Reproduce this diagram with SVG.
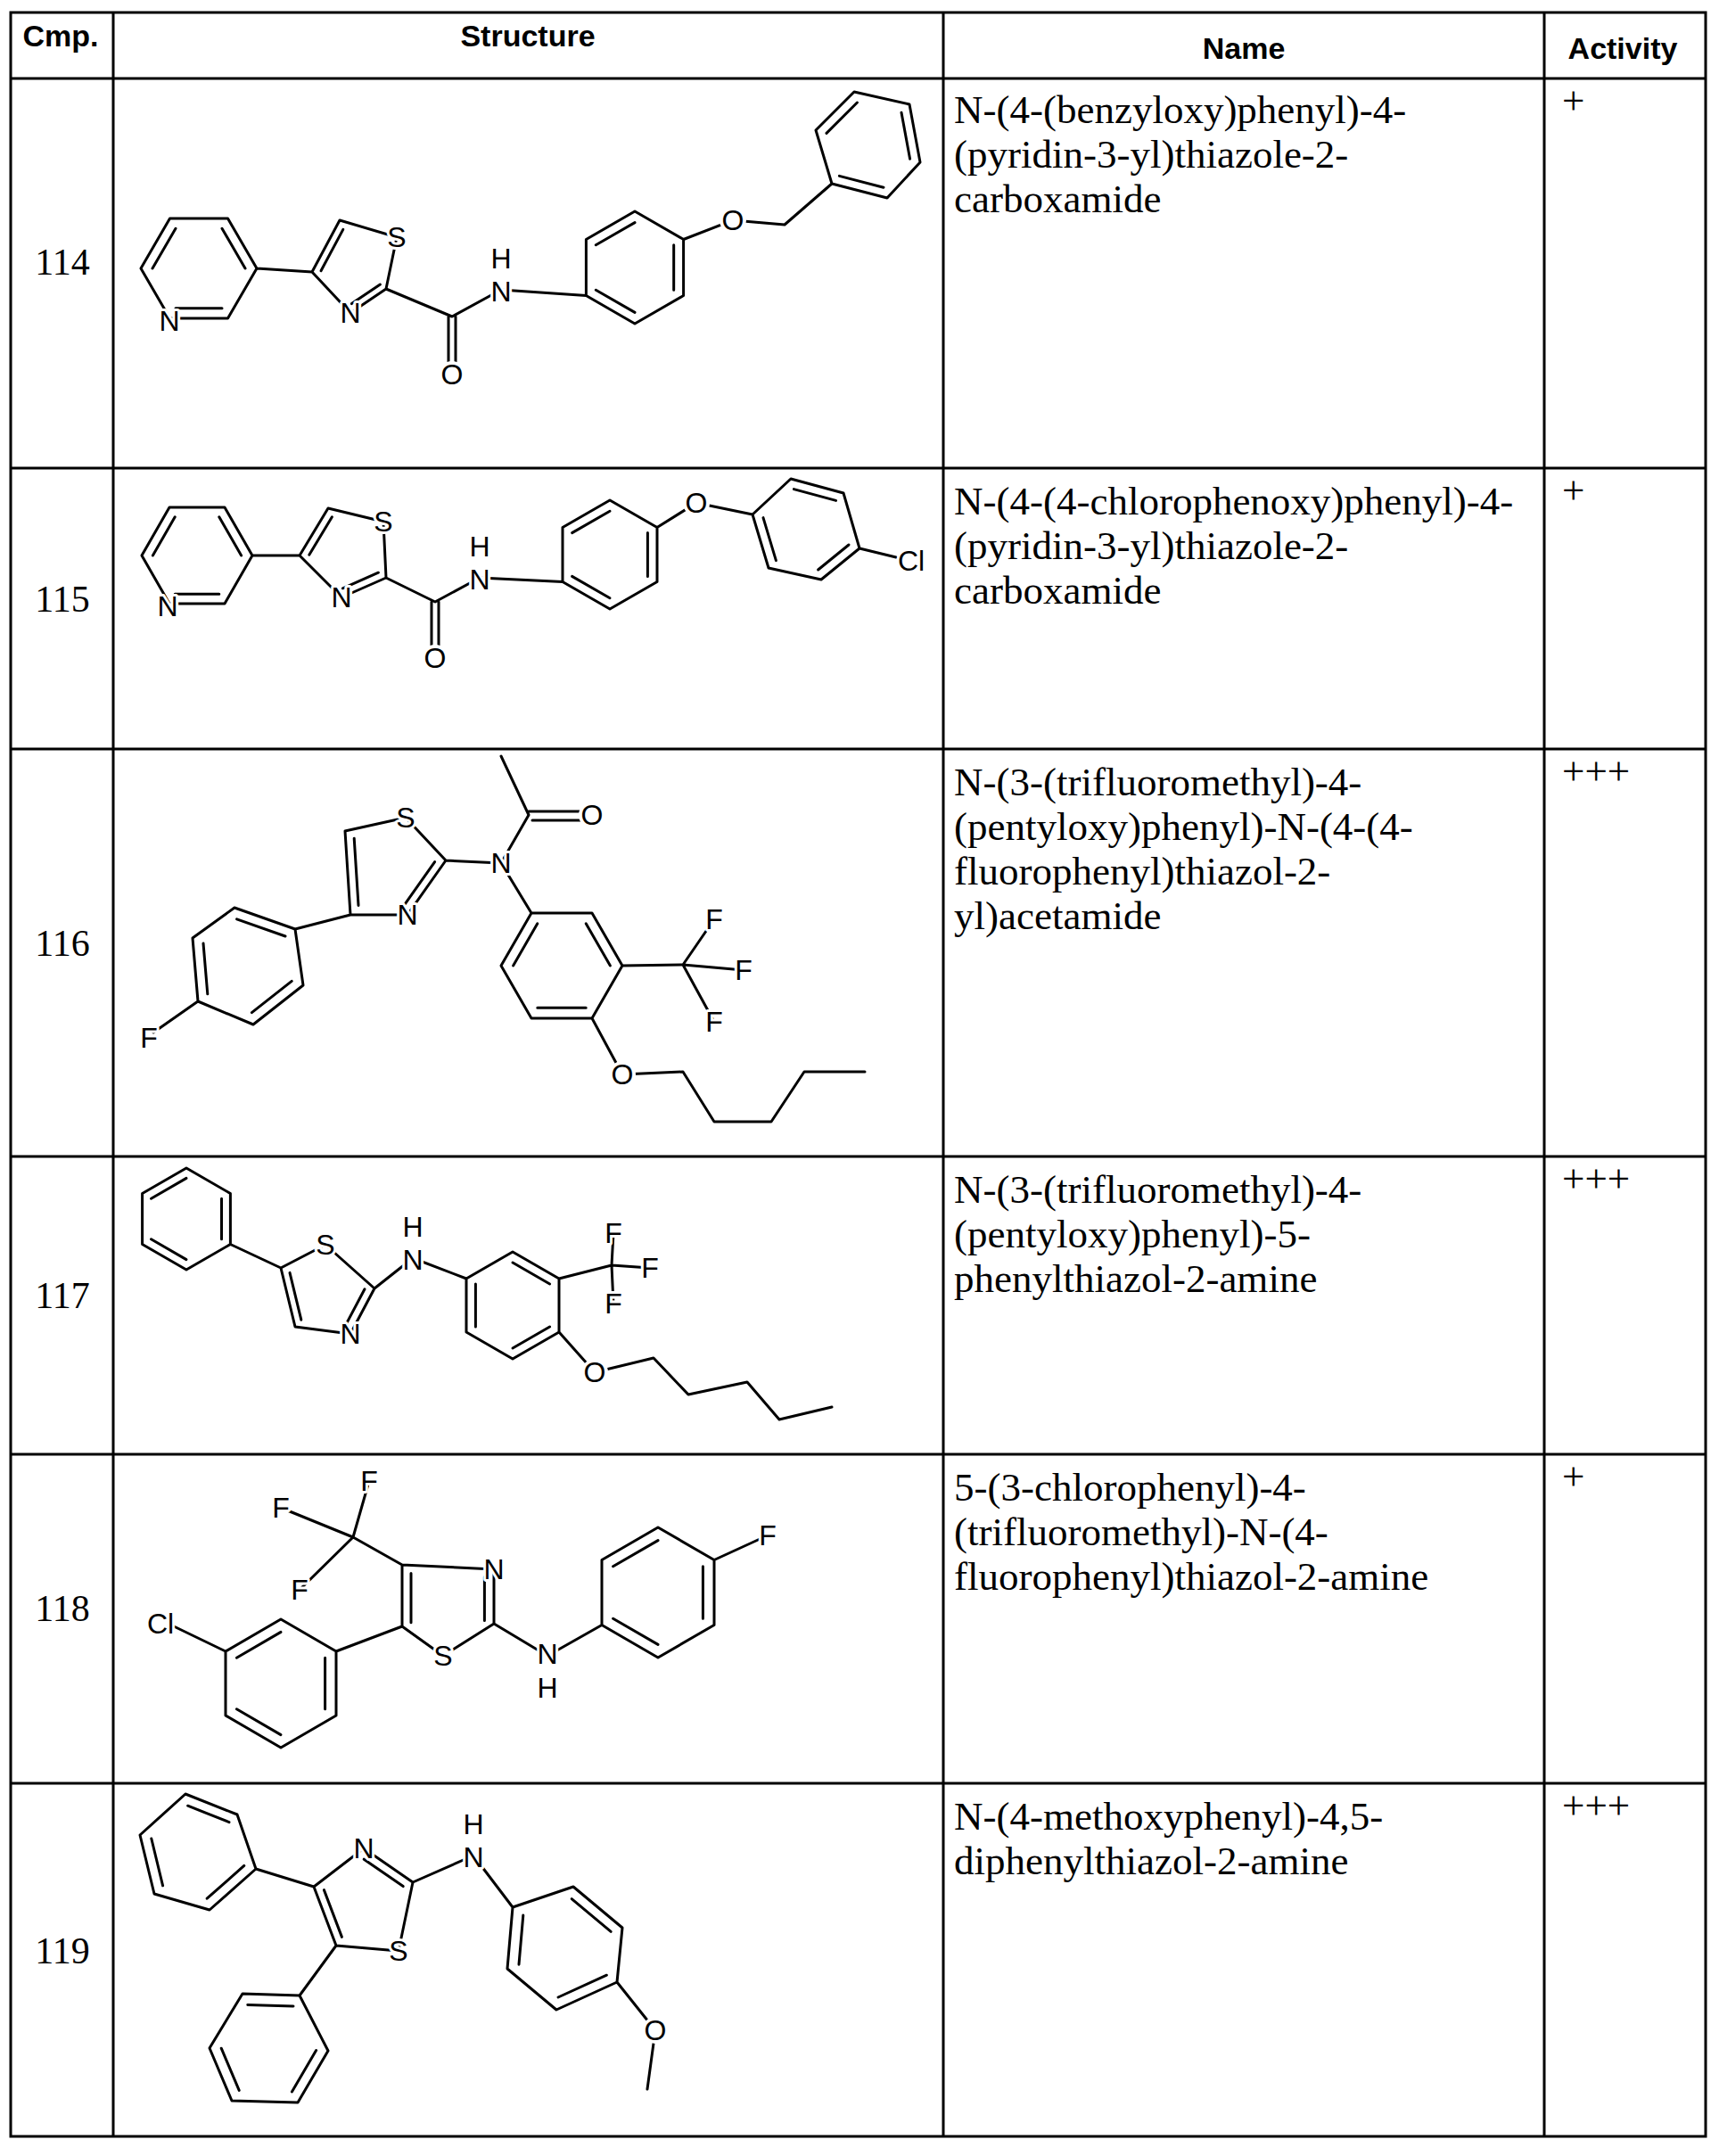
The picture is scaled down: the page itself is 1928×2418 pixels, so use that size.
<svg xmlns="http://www.w3.org/2000/svg" width="1928" height="2418" viewBox="0 0 1928 2418">
<style>
.t{stroke:#000;stroke-width:3;fill:none}
.b{stroke:#000;stroke-width:3;fill:none;stroke-linecap:round;stroke-linejoin:round}
.i path{vector-effect:non-scaling-stroke}
.m{fill:#fff;stroke:none}
.a{font-family:"Liberation Sans",Arial,sans-serif;font-size:32px;text-anchor:middle;dominant-baseline:central;fill:#000;stroke:#fff;stroke-width:6px;paint-order:stroke;stroke-linejoin:round}
.h{font-family:"Liberation Sans",Arial,sans-serif;font-size:34px;font-weight:bold;text-anchor:middle}
.n{font-family:"Liberation Serif","Times New Roman",serif;font-size:45px}
.c{font-family:"Liberation Serif","Times New Roman",serif;font-size:42px;text-anchor:middle}
</style>
<rect width="1928" height="2418" fill="#fff"/>
<g id="table" class="t">
<rect x="12" y="14" width="1901" height="2382"/>
<path d="M127 14V2396M1058 14V2396M1732 14V2396M12 88H1913M12 525H1913M12 840H1913M12 1297H1913M12 1631H1913M12 2000H1913"/>
</g>
<g id="header">
<text class="h" x="68" y="52">Cmp.</text>
<text class="h" x="592" y="52">Structure</text>
<text class="h" x="1395" y="66">Name</text>
<text class="h" x="1820" y="66">Activity</text>
</g>
<g id="row114">
<text class="c" x="70" y="308">114</text>
<text class="n" x="1070" y="138">N-(4-(benzyloxy)phenyl)-4-</text>
<text class="n" x="1070" y="188">(pyridin-3-yl)thiazole-2-</text>
<text class="n" x="1070" y="238">carboxamide</text>
<text class="n" x="1752" y="128">+</text>
<path class="b" d="M288 301L255.5 357L190.5 357L158 301L190.5 245L255.5 245Z M288 301L350 305 M350 305L381 247L445 266L433 324L393 351Z M433 324L507 355L562 325 M503 355V412 M511 355V412 M562 325L657.4 331.5 M712 237L766.6 268.5L766.6 331.5L712 363L657.4 331.5L657.4 268.5Z M766.6 268.5L822 247L880 252L933 206 M933 206L915 146L958 103L1020 117L1032 182L995 222Z"/>
<g class="i b" transform="matrix(0.8,0,0,0.8,44.6,60.2)"><path d="M158 301L190.5 245M255.5 245L288 301M255.5 357L190.5 357"/></g>
<g class="i b" transform="matrix(0.8,0,0,0.8,80,59.8)"><path d="M350 305L381 247M433 324L393 351"/></g>
<g class="i b" transform="matrix(0.8,0,0,0.8,142.4,60)"><path d="M657.4 268.5L712 237M766.6 268.5L766.6 331.5M712 363L657.4 331.5"/></g>
<g class="i b" transform="matrix(0.8,0,0,0.8,195,32.6)"><path d="M915 146L958 103M1020 117L1032 182M995 222L933 206"/></g>
<circle class="m" cx="507" cy="420" r="15"/><circle class="m" cx="822" cy="247" r="15"/>
<text class="a" x="190" y="360">N</text><text class="a" x="445" y="266">S</text><text class="a" x="393" y="351">N</text>
<text class="a" x="507" y="420">O</text><text class="a" x="562" y="327">N</text><text class="a" x="562" y="290">H</text><text class="a" x="822" y="247">O</text>
</g>
<g id="row115">
<text class="c" x="70" y="686">115</text>
<text class="n" x="1070" y="577">N-(4-(4-chlorophenoxy)phenyl)-4-</text>
<text class="n" x="1070" y="627">(pyridin-3-yl)thiazole-2-</text>
<text class="n" x="1070" y="677">carboxamide</text>
<text class="n" x="1752" y="565">+</text>
<path class="b" d="M283 623L252 677L190 677L159 623L190 569L252 569Z M283 623L336 623 M336 623L368 570L430 585L433 648L383 670Z M433 648L488 675L538 648 M484 675V730 M492 675V730 M538 648L631 652.5 M684 561L737 591.5L737 652.5L684 683L631 652.5L631 591.5Z M737 591.5L781 564L844 577 M844 577L887 537L946 553L964 615L921 650L862 637Z M964 615L1005 625"/>
<g class="i b" transform="matrix(0.8,0,0,0.8,44.2,124.6)"><path d="M159 623L190 569M252 569L283 623M252 677L190 677"/></g>
<g class="i b" transform="matrix(0.8,0,0,0.8,78,123.8)"><path d="M336 623L368 570M433 648L383 670"/></g>
<g class="i b" transform="matrix(0.8,0,0,0.8,136.8,124.4)"><path d="M631 591.5L684 561M737 591.5L737 652.5M684 683L631 652.5"/></g>
<g class="i b" transform="matrix(0.8,0,0,0.8,180.8,119)"><path d="M887 537L946 553M964 615L921 650M862 637L844 577"/></g>
<circle class="m" cx="488" cy="738" r="15"/><circle class="m" cx="781" cy="564" r="15"/>
<text class="a" x="188" y="680">N</text><text class="a" x="430" y="585">S</text><text class="a" x="383" y="670">N</text>
<text class="a" x="488" y="738">O</text><text class="a" x="538" y="650">N</text><text class="a" x="538" y="613">H</text><text class="a" x="781" y="564">O</text><text class="a" x="1022" y="629">Cl</text>
</g>
<g id="row116">
<text class="c" x="70" y="1072">116</text>
<text class="n" x="1070" y="892">N-(3-(trifluoromethyl)-4-</text>
<text class="n" x="1070" y="942">(pentyloxy)phenyl)-N-(4-(4-</text>
<text class="n" x="1070" y="992">fluorophenyl)thiazol-2-</text>
<text class="n" x="1070" y="1042">yl)acetamide</text>
<text class="n" x="1752" y="880">+++</text>
<path class="b" d="M562 848L593 914L562 968 M593 910H660 M597 920H660 M387 932L455 917L500 965L457 1026L393 1026Z M500 965L562 968 M393 1026L331 1042 M263 1018L331 1042L340 1105L284 1149L222 1123L216 1052Z M222 1123L172 1158 M698 1083L664 1142L596 1142L562 1083L596 1024L664 1024Z M562 968L596 1024 M698 1083L766 1082L801 1031 M766 1082L834 1088 M766 1082L801 1146 M664 1142L698 1205L766 1202L801 1258L865 1258L902 1202L970 1202"/>
<g class="i b" transform="matrix(0.8,0,0,0.8,87.6,194.6)"><path d="M387 932L393 1026M500 965L457 1026"/></g>
<g class="i b" transform="matrix(0.8,0,0,0.8,55.2,216.4)"><path d="M263 1018L331 1042M340 1105L284 1149M222 1123L216 1052"/></g>
<g class="i b" transform="matrix(0.8,0,0,0.8,126,216.6)"><path d="M664 1024L698 1083M664 1142L596 1142M562 1083L596 1024"/></g>
<circle class="m" cx="664" cy="914" r="15"/><circle class="m" cx="698" cy="1205" r="15"/>
<text class="a" x="664" y="914">O</text><text class="a" x="562" y="968">N</text><text class="a" x="455" y="917">S</text><text class="a" x="457" y="1026">N</text>
<text class="a" x="167" y="1164">F</text><text class="a" x="801" y="1031">F</text><text class="a" x="834" y="1088">F</text><text class="a" x="801" y="1146">F</text><text class="a" x="698" y="1205">O</text>
</g>
<g id="row117">
<text class="c" x="70" y="1467">117</text>
<text class="n" x="1070" y="1349">N-(3-(trifluoromethyl)-4-</text>
<text class="n" x="1070" y="1399">(pentyloxy)phenyl)-5-</text>
<text class="n" x="1070" y="1449">phenylthiazol-2-amine</text>
<text class="n" x="1752" y="1337">+++</text>
<path class="b" d="M209 1310L258.4 1338.5L258.4 1395.5L209 1424L159.6 1395.5L159.6 1338.5Z M258.4 1395.5L315 1422 M315 1422L365 1396L420 1445L393 1496L331 1488Z M420 1445L463 1411L523 1434 M575 1404L627 1434L627 1494L575 1524L523 1494L523 1434Z M627 1434L686 1419L688 1383 M686 1419L729 1422 M686 1419L688 1462 M627 1494L667 1539L733 1523L772 1564L838 1550L874 1592L933 1578"/>
<g class="i b" transform="matrix(0.8,0,0,0.8,41.8,273.4)"><path d="M159.6 1338.5L209 1310M258.4 1338.5L258.4 1395.5M209 1424L159.6 1395.5"/></g>
<g class="i b" transform="matrix(0.8,0,0,0.8,73,289.8)"><path d="M420 1445L393 1496M331 1488L315 1422"/></g>
<g class="i b" transform="matrix(0.8,0,0,0.8,115,292.8)"><path d="M575 1404L627 1434M627 1494L575 1524M523 1494L523 1434"/></g>
<circle class="m" cx="667" cy="1539" r="15"/>
<text class="a" x="365" y="1396">S</text><text class="a" x="393" y="1496">N</text><text class="a" x="463" y="1413">N</text><text class="a" x="463" y="1376">H</text>
<text class="a" x="688" y="1383">F</text><text class="a" x="729" y="1422">F</text><text class="a" x="688" y="1462">F</text><text class="a" x="667" y="1539">O</text>
</g>
<g id="row118">
<text class="c" x="70" y="1818">118</text>
<text class="n" x="1070" y="1683">5-(3-chlorophenyl)-4-</text>
<text class="n" x="1070" y="1733">(trifluoromethyl)-N-(4-</text>
<text class="n" x="1070" y="1783">fluorophenyl)thiazol-2-amine</text>
<text class="n" x="1752" y="1671">+</text>
<path class="b" d="M451 1755L554 1760L554 1821L497 1857L451 1824Z M451 1755L396 1724L414 1661 M396 1724L315 1691 M396 1724L336 1783 M554 1821L614 1857L675 1822.5 M738 1713L801 1749.5L801 1822.5L738 1859L675 1822.5L675 1749.5Z M801 1749.5L861 1722 M451 1824L377 1852 M315 1816L377 1852L377 1924L315 1960L253 1924L253 1852Z M253 1852L195 1824"/>
<g class="i b" transform="matrix(0.8,0,0,0.8,100.2,360.6)"><path d="M451 1755L451 1824M554 1760L554 1821"/></g>
<g class="i b" transform="matrix(0.8,0,0,0.8,147.6,357.2)"><path d="M675 1749.5L738 1713M801 1749.5L801 1822.5M738 1859L675 1822.5"/></g>
<g class="i b" transform="matrix(0.8,0,0,0.8,63,377.6)"><path d="M315 1816L253 1852M377 1852L377 1924M315 1960L253 1924"/></g>
<text class="a" x="554" y="1760">N</text><text class="a" x="497" y="1857">S</text><text class="a" x="614" y="1855">N</text><text class="a" x="614" y="1893">H</text>
<text class="a" x="414" y="1661">F</text><text class="a" x="315" y="1691">F</text><text class="a" x="336" y="1783">F</text><text class="a" x="861" y="1722">F</text><text class="a" x="180" y="1821">Cl</text>
</g>
<g id="row119">
<text class="c" x="70" y="2202">119</text>
<text class="n" x="1070" y="2052">N-(4-methoxyphenyl)-4,5-</text>
<text class="n" x="1070" y="2102">diphenylthiazol-2-amine</text>
<text class="n" x="1752" y="2040">+++</text>
<path class="b" d="M208 2012L266 2035L287 2096L235 2142L173 2124L157 2058Z M287 2096L352 2116 M352 2116L408 2073L463 2111L447 2188L377 2182Z M463 2111L531 2081L575 2139 M575 2139L643 2116L698 2162L692 2223L624 2254L569 2208Z M692 2223L735 2277L726 2343 M377 2182L336 2238 M336 2238L272 2236L235 2297L260 2356L334 2358L368 2300Z"/>
<g class="i b" transform="matrix(0.8,0,0,0.8,44.2,415.6)"><path d="M208 2012L266 2035M287 2096L235 2142M173 2124L157 2058"/></g>
<g class="i b" transform="matrix(0.8,0,0,0.8,81.8,426.8)"><path d="M352 2116L377 2182M408 2073L463 2111"/></g>
<g class="i b" transform="matrix(0.8,0,0,0.8,126.8,436.8)"><path d="M643 2116L698 2162M692 2223L624 2254M569 2208L575 2139"/></g>
<g class="i b" transform="matrix(0.8,0,0,0.8,60.2,459.6)"><path d="M336 2238L272 2236M235 2297L260 2356M334 2358L368 2300"/></g>
<circle class="m" cx="735" cy="2277" r="15"/>
<text class="a" x="408" y="2073">N</text><text class="a" x="447" y="2188">S</text><text class="a" x="531" y="2083">N</text><text class="a" x="531" y="2046">H</text><text class="a" x="735" y="2277">O</text>
</g>
</svg>
